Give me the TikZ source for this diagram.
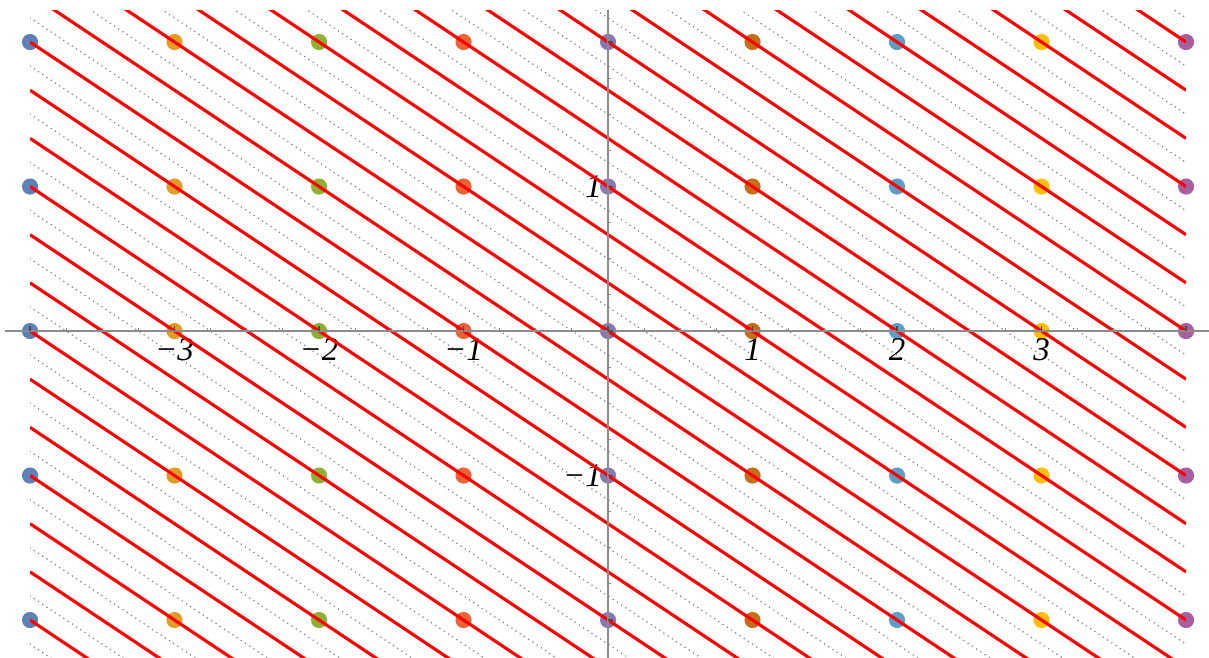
\documentclass[tikz,border=0pt]{standalone}
\usepackage{fontspec}
\setmainfont{Liberation Serif}
\definecolor{cA}{rgb}{0.368417,0.506779,0.709798}
\definecolor{cB}{rgb}{0.880722,0.611041,0.142051}
\definecolor{cC}{rgb}{0.560181,0.691569,0.194885}
\definecolor{cD}{rgb}{0.922526,0.385626,0.209179}
\definecolor{cE}{rgb}{0.528488,0.470624,0.701351}
\definecolor{cF}{rgb}{0.772079,0.431554,0.102387}
\definecolor{cG}{rgb}{0.363898,0.618501,0.782349}
\definecolor{cH}{rgb}{1,0.75,0}
\definecolor{cI}{rgb}{0.647624,0.37816,0.614037}
\definecolor{redl}{rgb}{1,0,0}
\definecolor{axisgray}{rgb}{0.55,0.55,0.55}
\definecolor{tickgray}{rgb}{0.3,0.3,0.3}
\begin{document}
\begin{tikzpicture}[x=1cm,y=1cm,
  redline/.style={draw=redl,line width=0.62pt},
  dotline/.style={draw=black!50,line width=0.34pt,line cap=round,dash pattern=on 0pt off 1pt},
  axisline/.style={draw=axisgray,line width=0.25pt},
  majortick/.style={draw=tickgray,line width=0.25pt},
  minortick/.style={draw=axisgray,line width=0.2pt},
  lattdot/.style={inner sep=0pt,minimum size=0.112cm,circle},
  xlab/.style={anchor=north,inner sep=0pt,font=\fontsize{6.5}{7.5}\selectfont\itshape},
  ylab/.style={anchor=east,inner sep=0pt,font=\fontsize{6.5}{7.5}\selectfont\itshape}]
\useasboundingbox (-4.208,-2.256) rectangle (4.159,2.291);
% dotted lines 2x+3y = n+1/2
\begin{scope}
  \clip (-4,-2.3) rectangle (4.01,2.221);
  \foreach \n in {-17,...,16} {
    \draw[dotline] (-4,{(\n+0.5+8)/3}) -- (4,{(\n+0.5-8)/3});
  }
\end{scope}
% lattice points
\foreach \i/\c in {-4/cA,-3/cB,-2/cC,-1/cD,0/cE,1/cF,2/cG,3/cH,4/cI} {
  \foreach \j in {-2,...,2} {
    \node[lattdot,fill=\c] (p\i\j) at (\i,\j) {};
  }
}
% labels
\node[xlab] (lxm3) at (-3,-0.045) {−3};
\node[xlab] (lxm2) at (-2,-0.045) {−2};
\node[xlab] (lxm1) at (-1,-0.045) {−1};
\node[xlab] (lx1) at (1,-0.045) {1};
\node[xlab] (lx2) at (2,-0.045) {2};
\node[xlab] (lx3) at (3,-0.045) {3};
\node[ylab] (ly1) at (-0.035,1) {1};
\node[ylab] (lym1) at (-0.035,-1) {−1};
% red lines 2x+3y = n
\begin{scope}
  \clip (-4,-2.3) rectangle (4,2.221);
  \foreach \n in {-16,...,16} {
    \draw[redline] (-4,{(\n+8)/3}) -- (4,{(\n-8)/3});
  }
\end{scope}
% axes
\draw[axisline] (-4.173,0) -- (4.159,0);
\draw[axisline] (0,-2.26) -- (0,2.221);
\foreach \k in {-16,...,16} {
  \draw[minortick] ({\k/4},0) -- ({\k/4},0.02);
}
\foreach \k in {-8,...,8} {
  \draw[minortick] (0,{\k/4}) -- (0.02,{\k/4});
}
\foreach \k in {-4,...,4} {
  \draw[majortick] (\k,0) -- (\k,0.036);
}
\foreach \k in {-2,...,2} {
  \draw[majortick] (0,\k) -- (0.036,\k);
}
\end{tikzpicture}
\end{document}
